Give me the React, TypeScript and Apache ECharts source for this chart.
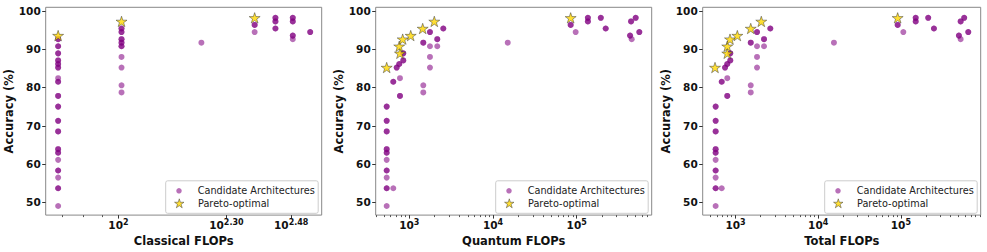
import React, { useEffect, useRef } from 'react';
import * as echarts from 'echarts';

const FONT = 'DejaVu Sans';
const PURPLE = 'rgba(128,0,128,0.7)';
const GOLD = '#FFD700';
const STAR =
  'path://M50 0 L61.23 34.55 L97.55 34.55 L68.17 55.9 L79.39 90.45 L50 69.1 L20.61 90.45 L31.83 55.9 L2.45 34.55 L38.77 34.55 Z';

const yTicks = [50, 60, 70, 80, 90, 100];

// [FLOPs, accuracy %, number of architectures at that spot]
const classicalCandidates = [
  [68, 92.59, 2], [68, 90.74, 2], [68, 88.89, 2], [68, 87.04, 2], [68, 86.11, 2], [68, 85.19, 2],
  [68, 82.41, 1], [68, 81.48, 2], [68, 77.78, 2], [68, 75.0, 2], [68, 71.3, 2], [68, 68.52, 2],
  [68, 63.89, 2], [68, 62.96, 2], [68, 61.11, 1], [68, 58.33, 2], [68, 56.48, 1], [68, 53.7, 2],
  [68, 49.07, 1],
  [102, 95.37, 2], [102, 94.44, 2], [102, 92.59, 2], [102, 91.67, 2], [102, 90.74, 2],
  [102, 87.96, 1], [102, 85.19, 1], [102, 80.56, 1], [102, 78.7, 1],
  [170, 91.67, 1],
  [239, 96.3, 2], [239, 94.44, 1],
  [273, 98.15, 2], [273, 97.22, 2], [273, 95.37, 2],
  [305, 98.15, 2], [305, 97.22, 2], [305, 93.52, 2], [305, 92.59, 1],
  [341, 94.44, 2],
];
const classicalPareto = [[68, 93.52], [102, 97.22], [239, 98.15]];

const quantumCandidates = [
  [537, 75.0, 2], [537, 71.3, 2], [537, 68.52, 2], [537, 63.89, 2], [537, 62.96, 2], [537, 61.11, 1],
  [537, 58.33, 2], [537, 56.48, 1], [537, 53.7, 2], [537, 49.07, 1],
  [644, 81.48, 2], [644, 53.7, 1],
  [707, 85.19, 2], [759, 86.11, 2], [774, 82.41, 1], [774, 77.78, 2],
  [848, 88.89, 2], [848, 87.04, 2],
  [1470, 91.67, 2], [1470, 80.56, 1], [1470, 78.7, 1],
  [1766, 94.44, 2], [1766, 90.74, 1], [1766, 87.96, 1], [1766, 85.19, 1],
  [2160, 92.59, 2], [2160, 90.74, 1], [2550, 95.37, 2],
  [15000, 91.67, 1],
  [84700, 96.3, 2], [97200, 94.44, 1],
  [136000, 98.15, 2], [136000, 97.22, 2], [194000, 98.15, 2], [222000, 95.37, 2],
  [434000, 93.52, 2], [454000, 92.59, 1], [446000, 97.22, 2], [507000, 98.15, 2], [560000, 94.44, 2],
];
const quantumPareto = [
  [537, 85.19], [774, 88.89], [759, 90.74], [834, 92.59], [1040, 93.52], [1446, 95.37], [1990, 97.22], [84700, 98.15],
];

const totalCandidates = [
  [575, 75.0, 2], [575, 71.3, 2], [575, 68.52, 2], [575, 63.89, 2], [575, 62.96, 2], [575, 61.11, 1],
  [575, 58.33, 2], [575, 56.48, 1], [575, 53.7, 2], [575, 49.07, 1],
  [681, 81.48, 2], [681, 53.7, 1],
  [747, 85.19, 2], [795, 86.11, 2], [795, 82.41, 1], [795, 77.78, 2],
  [865, 88.89, 2], [865, 87.04, 2],
  [1528, 91.67, 2], [1528, 80.56, 1], [1528, 78.7, 1],
  [1820, 94.44, 2], [1820, 90.74, 1], [1820, 87.96, 1], [1820, 85.19, 1],
  [2212, 92.59, 2], [2212, 90.74, 1], [2636, 95.37, 2],
  [15500, 91.67, 1],
  [91400, 96.3, 2], [107000, 94.44, 1],
  [151000, 98.15, 2], [151000, 97.22, 2], [214000, 98.15, 2], [251000, 95.37, 2],
  [503000, 93.52, 2], [528000, 92.59, 1], [528000, 97.22, 2], [583000, 98.15, 2], [653000, 94.44, 2],
];
const totalPareto = [
  [565, 85.19], [795, 88.89], [795, 90.74], [858, 92.59], [1052, 93.52], [1528, 95.37], [2050, 97.22], [91400, 98.15],
];

const classicalTicks = [100, 199.5, 302];
const classicalMinorTicks = [70, 80, 90];
const quantumTicks = [1e3, 1e4, 1e5];
const totalTicks = [1e3, 1e4, 1e5];

function logMinor(min: number, max: number) {
  const out: number[] = [];
  for (let k = 1; k <= 6; k++) {
    for (let m = 2; m <= 9; m++) {
      const v = m * Math.pow(10, k);
      if (v > min && v < max) out.push(v);
    }
  }
  return out;
}

function expand(list: number[][]) {
  const out: number[][] = [];
  list.forEach(([x, y, n]) => {
    for (let i = 0; i < n; i++) out.push([x, y]);
  });
  return out;
}

const GRID_TOP = 7.3;
const GRID_H = 210;

const panels = [
  { name: 'Classical FLOPs', cand: classicalCandidates, pareto: classicalPareto, major: classicalTicks, minor: classicalMinorTicks, min: 62.8, max: 367, left: 45.7, width: 276 },
  { name: 'Quantum FLOPs', cand: quantumCandidates, pareto: quantumPareto, major: quantumTicks, minor: logMinor(397, 787000), min: 397, max: 787000, left: 375.7, width: 276 },
  { name: 'Total FLOPs', cand: totalCandidates, pareto: totalPareto, major: totalTicks, minor: logMinor(401, 923000), min: 401, max: 923000, left: 702.7, width: 278 },
];

function tickFormatter(v: number) {
  const e = Math.round(Math.log10(v) * 100) / 100;
  const s = Number.isInteger(e) ? String(e) : e.toFixed(2);
  return `{b|10}{s|${s}}`;
}

export default function App() {
  const ref = useRef<HTMLDivElement>(null);
  useEffect(() => {
    if (!ref.current) return;
    const chart = echarts.init(ref.current, undefined, { renderer: 'svg' });
    const grids: any[] = [];
    const xAxes: any[] = [];
    const minorAxes: any[] = [];
    const yAxes: any[] = [];
    const series: any[] = [];
    const legends: any[] = [];
    const graphics: any[] = [];

    panels.forEach((p, i) => {
      grids.push({ left: p.left, top: GRID_TOP, width: p.width, height: GRID_H, show: true, borderColor: '#888', borderWidth: 1 });
      xAxes.push({
        type: 'log', logBase: 10, gridIndex: i, min: p.min, max: p.max, position: 'bottom',
        name: p.name, nameLocation: 'middle', nameGap: 13.5,
        nameTextStyle: { fontFamily: FONT, fontWeight: 'bold', fontSize: 11.5, color: '#111' },
        axisLine: { show: false }, splitLine: { show: false }, minorTick: { show: false },
        axisTick: { show: true, customValues: p.major, length: 3.5, lineStyle: { color: '#333' } },
        axisLabel: {
          customValues: p.major, margin: 3, formatter: tickFormatter,
          rich: {
            b: { fontFamily: FONT, fontWeight: 'bold', fontSize: 10.5, color: '#111', lineHeight: 12, verticalAlign: 'bottom' },
            s: { fontFamily: FONT, fontWeight: 'bold', fontSize: 8, color: '#111', lineHeight: 9, verticalAlign: 'top' },
          },
        },
      });
      minorAxes.push({
        type: 'log', logBase: 10, gridIndex: i, min: p.min, max: p.max, position: 'bottom',
        axisLine: { show: false }, axisLabel: { show: false }, splitLine: { show: false },
        axisTick: { show: true, customValues: p.minor, length: 2, lineStyle: { color: '#555' } },
      });
      yAxes.push({
        type: 'value', gridIndex: i, min: 46.7, max: 100.9,
        name: 'Accuracy (%)', nameLocation: 'middle', nameGap: 29,
        nameTextStyle: { fontFamily: FONT, fontWeight: 'bold', fontSize: 11.5, color: '#111' },
        axisLine: { show: false }, splitLine: { show: false },
        axisTick: { show: true, customValues: yTicks, length: 3.5, lineStyle: { color: '#333' } },
        axisLabel: { customValues: yTicks, fontFamily: FONT, fontWeight: 'bold', fontSize: 10.5, color: '#111', margin: 5 },
      });
      series.push({
        type: 'scatter', name: 'Candidate Architectures', xAxisIndex: i, yAxisIndex: i,
        data: expand(p.cand), symbol: 'circle', symbolSize: 6, itemStyle: { color: PURPLE }, z: 2,
      });
      series.push({
        type: 'scatter', name: 'Pareto-optimal', xAxisIndex: i, yAxisIndex: i,
        data: p.pareto, symbol: STAR, symbolSize: 11, symbolKeepAspect: true,
        itemStyle: { color: GOLD, borderColor: '#333', borderWidth: 0.6 }, z: 3,
      });
      const fx = p.left + p.width - 3.5 - 152.5;
      const fy = GRID_TOP + GRID_H - 4 - 32.5;
      graphics.push({
        type: 'rect', z: 3, shape: { x: fx, y: fy, width: 152.5, height: 32.5, r: 2 },
        style: { fill: 'rgba(255,255,255,0.8)', stroke: '#ccc', lineWidth: 1 },
      });
      const ts = { fontFamily: FONT, fontSize: 9.7, color: '#222', lineHeight: 12 };
      legends.push({
        data: [{ name: 'Candidate Architectures', icon: 'circle', itemStyle: { color: PURPLE, borderWidth: 0 } }],
        left: fx + 10.55, top: fy + 4, padding: 0, itemWidth: 5.5, itemHeight: 5.5,
        selectedMode: false, textStyle: { ...ts, padding: [0, 0, 0, 11] },
      });
      legends.push({
        data: [{ name: 'Pareto-optimal', icon: STAR, itemStyle: { color: GOLD, borderColor: '#333', borderWidth: 0.6 } }],
        left: fx + 8.55, top: fy + 16.5, padding: 0, itemWidth: 9.5, itemHeight: 9, symbolKeepAspect: true,
        selectedMode: false, textStyle: { ...ts, padding: [0, 0, 0, 9] },
      });
    });

    chart.setOption({
      animation: false,
      backgroundColor: '#fff',
      grid: grids,
      xAxis: [...xAxes, ...minorAxes],
      yAxis: yAxes,
      series,
      legend: legends,
      graphic: graphics,
    });
    return () => chart.dispose();
  }, []);
  return <div ref={ref} style={{ position: 'fixed', left: 0, top: 0, width: 987, height: 252 }} />;
}
